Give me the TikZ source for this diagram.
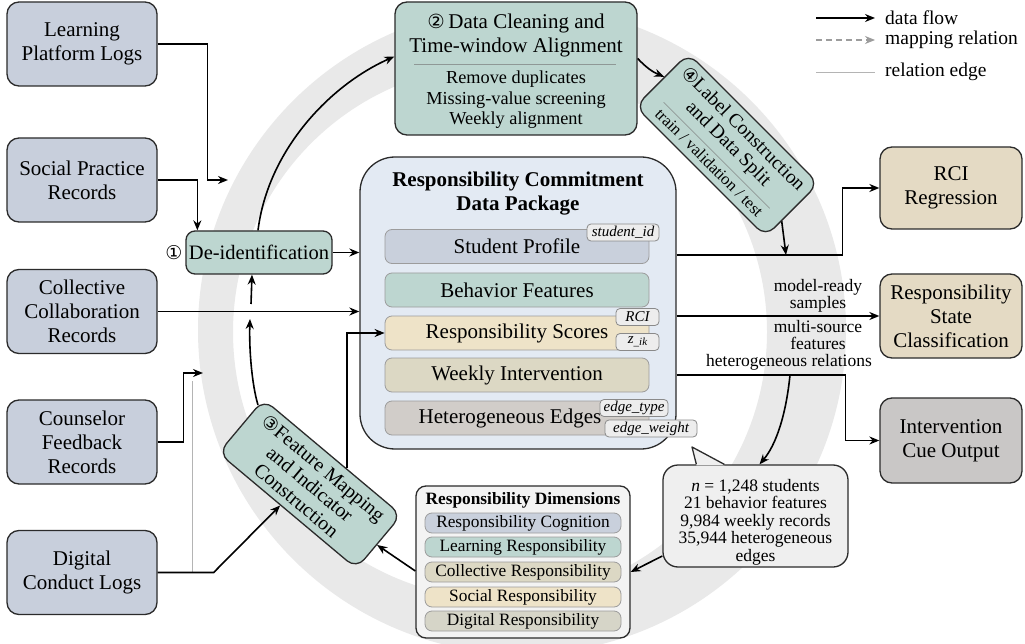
\documentclass[tikz,border=0pt]{standalone}
\usepackage{fontspec}
\setmainfont{Liberation Serif}
\newfontfamily\symfont{DejaVu Sans}
\usetikzlibrary{arrows.meta,calc}
\newcommand\fs[2]{\fontsize{#1}{#2}\selectfont}
\definecolor{srcfill}{HTML}{C8CFDC}
\definecolor{tealfill}{HTML}{BDD6D0}
\definecolor{pkgfill}{HTML}{E3EAF3}
\definecolor{beigefill}{HTML}{E4DAC4}
\definecolor{icofill}{HTML}{C9C7C6}
\definecolor{rowprof}{HTML}{C9D0DC}
\definecolor{rowbeh}{HTML}{BDD6D0}
\definecolor{rowsco}{HTML}{EEE3C8}
\definecolor{rowweek}{HTML}{DCD8C4}
\definecolor{rowhet}{HTML}{D1CDC9}
\definecolor{rowdig}{HTML}{D6D5C8}
\definecolor{tagfill}{HTML}{EDEDED}
\definecolor{taggray}{HTML}{8A8A8A}
\definecolor{rowbord}{HTML}{9C9C9C}
\definecolor{bord}{HTML}{2B2B2B}
\definecolor{ringc}{HTML}{E9E9E9}
\definecolor{callfill}{HTML}{EFEFEF}
\definecolor{dimfill}{HTML}{F3F3F3}
\definecolor{rulegray}{HTML}{8F9896}
\definecolor{relgray}{HTML}{B4B4B4}
\definecolor{mapgray}{HTML}{9C9C9C}
\begin{document}
\begin{tikzpicture}[x=1pt,y=-1pt,
  box/.style={draw=bord, line width=1.3pt, rounded corners=12pt, align=center, inner sep=2pt},
  src/.style={box, fill=srcfill, minimum width=150pt, minimum height=84pt, font=\fs{21}{24}},
  outbox/.style={box, minimum width=142pt, font=\fs{21}{24}},
  prow/.style={draw=rowbord, line width=0.8pt, rounded corners=7pt, minimum width=264pt, minimum height=34pt, font=\fs{21}{24}, inner sep=0pt},
  tag/.style={draw=taggray, fill=tagfill, line width=0.8pt, rounded corners=4pt, font=\fs{15}{16}\itshape, inner sep=0pt, minimum height=17pt},
  drow/.style={draw=rowbord, line width=0.8pt, rounded corners=7pt, minimum width=196pt, minimum height=20pt, font=\fs{17.3}{18}, inner sep=0pt},
  flow/.style={-{Stealth[length=10pt,width=8pt]}, line width=1.6pt, draw=black},
  rel/.style={draw=relgray, line width=0.9pt},
  mapline/.style={-{Stealth[length=10pt,width=8pt]}, dash pattern=on 6pt off 4pt, draw=mapgray, line width=1.3pt},
  lbl/.style={font=\fs{17.5}{17}, align=center, inner sep=0pt}
]
\useasboundingbox (0,0) rectangle (1025,644);
\fill[white] (0,0) rectangle (1025,644);
% background ring
\fill[ringc, even odd rule] (522,330) circle[radius=324] (500,332) circle[radius=267];

% sources
\node[src] (lpl) at (82,44) {Learning\\Platform Logs};
\node[src] (spr) at (82,180) {Social Practice\\Records};
\node[src] (ccr) at (82,311.5) {Collective\\Collaboration\\Records};
\node[src] (cfr) at (82,442) {Counselor\\Feedback\\Records};
\node[src] (dcl) at (82,572.5) {Digital\\Conduct Logs};

% de-identification
\node[box, fill=tealfill, rounded corners=9pt, minimum width=146pt, minimum height=43pt, font=\fs{20.5}{22}, inner sep=0pt] (deid) at (259,252.5) {De-identification};
\node[font=\fs{19}{20}\symfont, inner sep=0pt] (n1) at (174,252.5) {①};

% data cleaning
\node[box, fill=tealfill, minimum width=242pt, minimum height=133pt] (clean) at (516,68.5) {};
\node[font=\fs{21}{24}, align=center, inner sep=0pt] (cleanT) at (516,35) {{\symfont\fs{19.5}{24}②}\,Data Cleaning and\\Time-window Alignment};
\draw[rulegray, line width=0.9pt] ($(clean.north west)+(20,63)$) -- ($(clean.north east)+(-22,63)$);
\node[font=\fs{18.3}{20.5}, align=center, inner sep=0pt] (cleanI) at (516,100) {Remove duplicates\\Missing-value screening\\Weekly alignment};

% label construction
\node[box, fill=tealfill, rounded corners=12pt, minimum width=184pt, minimum height=75pt, rotate=-45, font=\fs{19.5}{20.5}, inner sep=1pt] (lab) at (727,145) {{\symfont\fs{18.5}{20}④}Label Construction\\and Data Split\\[-9pt]\textcolor{rulegray}{\rule{150pt}{0.7pt}}\\[-5pt]{\fs{16.5}{18}train / validation / test}};

% feature mapping
\node[box, fill=tealfill, rounded corners=12pt, minimum width=180pt, minimum height=70pt, rotate=-40, font=\fs{20}{21}, inner sep=1pt] (fm) at (310,484) {{\symfont\fs{18.5}{20}③}Feature Mapping\\and Indicator\\Construction};

% package
\node[box, fill=pkgfill, rounded corners=35pt, minimum width=316pt, minimum height=292pt] (pkg) at (518,303) {};
\node[font=\fs{21}{24}\bfseries, align=center, inner sep=0pt] (pkgT) at (518,194) {Responsibility Commitment\\Data Package};
\node[prow, fill=rowprof] (prof) at (517,246.5) {Student Profile};
\node[prow, fill=rowbeh] (beh) at (517,290) {Behavior Features};
\node[prow, fill=rowsco] (scores) at (517,333) {Responsibility Scores};
\node[prow, fill=rowweek] (weekly) at (517,375) {Weekly Intervention};
\node[prow, fill=rowhet] (hetero) at (517,418) {\hspace*{-14pt}Heterogeneous Edges};
\node[tag, minimum width=72pt] (tsid) at (623,232.5) {student\_id};
\node[tag, minimum width=43pt] (trci) at (637.5,317) {RCI};
\node[tag, minimum width=43pt] (tz) at (637.5,342) {z\raisebox{-2pt}{\fs{11}{12}\_ik}};
\node[tag, minimum width=68pt] (tet) at (634,408) {edge\_type};
\node[tag, minimum width=92pt] (tew) at (651,428.5) {edge\_weight};

% outputs
\node[outbox, fill=beigefill, minimum height=82pt] (rci) at (951,188) {RCI\\Regression};
\node[outbox, fill=beigefill, minimum height=84pt] (rsc) at (951,316) {Responsibility\\State\\Classification};
\node[outbox, fill=icofill, minimum height=85pt] (ico) at (951,440.5) {Intervention\\Cue Output};

% callout
\node[box, fill=callfill, rounded corners=15pt, minimum width=185pt, minimum height=102pt] (call) at (755.5,516) {};
\coordinate (tip) at (692,447);
\fill[callfill] ($(call.north west)+(34,0.9)$) -- (tip) -- ($(call.north west)+(62,0.9)$) -- cycle;
\draw[bord, line width=1.3pt, line join=round] ($(call.north west)+(34,0)$) -- (tip) -- ($(call.north west)+(62,0)$);
\node[font=\fs{17.5}{17.5}, align=center, inner sep=0pt] (callT) at (755.5,522) {\textit{n} = 1,248 students\\21 behavior features\\9,984 weekly records\\35,944 heterogeneous\\edges};

% dimensions
\node[box, fill=dimfill, rounded corners=10pt, minimum width=214pt, minimum height=152pt] (dims) at (523,562) {};
\node[font=\fs{17.3}{18}\bfseries, inner sep=0pt] (dimsT) at (523,500) {Responsibility Dimensions};
\node[drow, fill=rowprof] (d1) at (523,523) {Responsibility Cognition};
\node[drow, fill=rowbeh] (d2) at (523,547) {Learning Responsibility};
\node[drow, fill=rowweek] (d3) at (523,572) {Collective Responsibility};
\node[drow, fill=rowsco] (d4) at (523,597) {Social Responsibility};
\node[drow, fill=rowdig] (d5) at (523,621) {Digital Responsibility};

% legend
\coordinate (lg1a) at (816,18); \coordinate (lg1b) at (875,18);
\coordinate (lg2a) at (816,40); \coordinate (lg2b) at (875,40);
\coordinate (lg3a) at (816,72); \coordinate (lg3b) at (875,72);
\draw[flow] (lg1a) -- (lg1b);
\draw[mapline] (lg2a) -- (lg2b);
\draw[rel] (lg3a) -- (lg3b);
\node[font=\fs{19.5}{20}, anchor=west, inner sep=0pt] (lgt1) at (885,18) {data flow};
\node[font=\fs{19.5}{20}, anchor=west, inner sep=0pt] (lgt2) at (885,40) {mapping relation};
\node[font=\fs{19.5}{20}, anchor=west, inner sep=0pt] (lgt3) at (885,72) {relation edge};

% connectors
\coordinate (lplEnd) at (228,180);
\draw[flow] (lpl.east) -- ++(50,0) |- (lplEnd);
\draw[flow] (spr.east) -| ([xshift=12pt]deid.north west);
\draw[flow] (deid.east) -- (deid.east -| pkg.west);
\draw[flow] ([xshift=-1pt]deid.north) .. controls (268,150) and (330,85) .. ([yshift=12pt]clean.west);
\draw[flow] (ccr.east) -- (ccr.east -| pkg.west);
\coordinate (jumpLo) at (250,319);
\coordinate (jumpHi) at (251,304);
\coordinate (x252) at (252,0);
\draw[flow] ($(fm.north west)!0.12!(fm.south west)$) .. controls (252,385) and (249,350) .. (jumpLo);
\draw[flow] (jumpHi) -- (deid.south -| x252);
\coordinate (cfrEnd) at (203,373);
\draw[flow] (cfr.east) -- ++(26,0) |- (cfrEnd);
\coordinate (relTop) at (192,381);
\draw[rel] (relTop) -- (relTop |- dcl.east);
\draw[flow] (dcl.east) -- ++(56,0) -- ($(fm.south west)!0.45!(fm.south east)$);
\draw[flow] ($(fm.north west)!0.6!(fm.north east)$) |- (scores.west);
\draw[flow] ([yshift=10pt]clean.east) to[bend right=12] ($(lab.north west)!0.45!(lab.south west)$);
\coordinate (labEnd) at (786,255);
\draw[flow] ($(lab.north east)!0.7!(lab.south east)$) -- (labEnd);
\coordinate (y255) at (0,255);
\coordinate (y375) at (0,375);
\draw[flow] (pkg.east |- y255) -- ++(166,0) |- (rci.west);
\draw[flow] (pkg.east |- rsc.west) -- (rsc.west);
\draw[flow] (pkg.east |- y375) -- ++(169,0) |- (ico.west);
\coordinate (split) at (790,375);
\draw[flow] (split) .. controls (786,415) and (776,445) .. ([xshift=4pt]call.north);
\draw[flow] ([yshift=-40pt]call.west) -- ([yshift=-10pt]dims.east);
\draw[flow] ([yshift=-9pt]dims.west) -- ($(fm.north east)!0.55!(fm.south east)$);

% edge labels
\node[lbl] (l1) at (818,296) {model-ready\\samples};
\node[lbl] (l2) at (818,335) {multi-source\\features};
\node[lbl] (l3) at (789,362) {heterogeneous relations};
\end{tikzpicture}
\end{document}
